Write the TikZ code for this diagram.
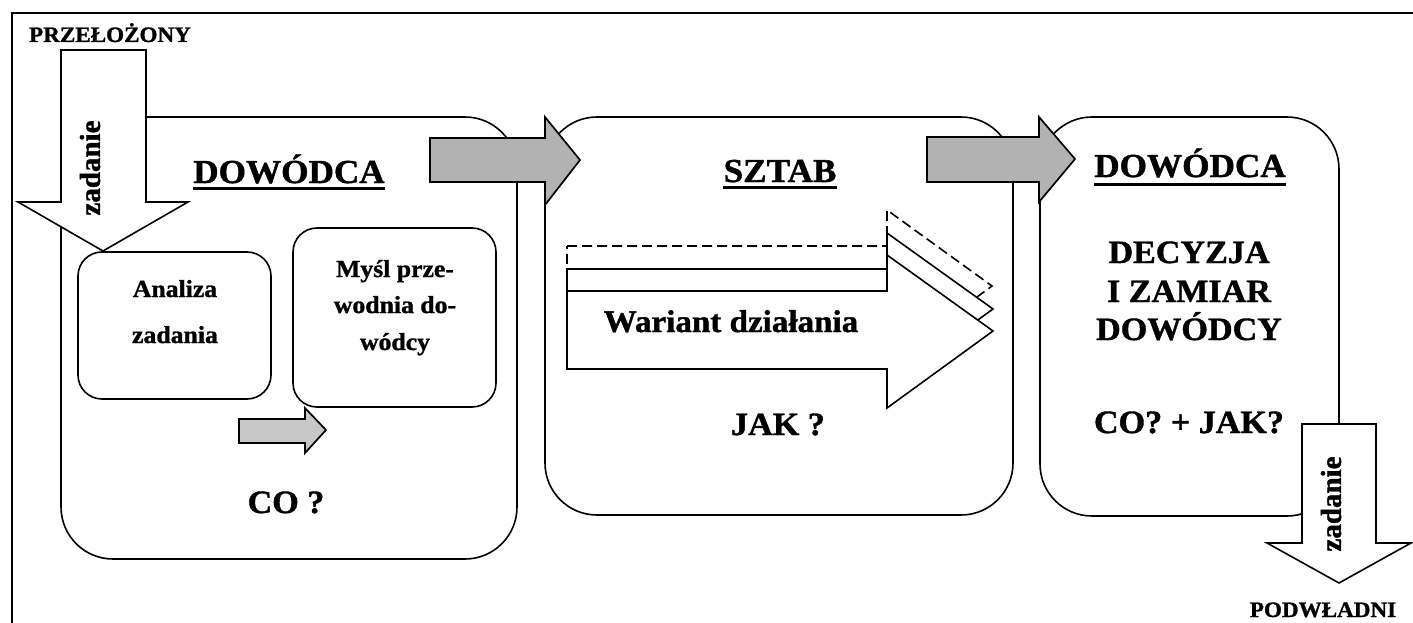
\documentclass[tikz,border=0pt]{standalone}
\usepackage{fontspec}
\setmainfont{Liberation Serif}[FakeStretch=1.05, BoldFeatures={FakeBold=1.2}]
\newfontfamily\uprightserif{Liberation Serif}[BoldFeatures={FakeBold=1.2}]
\usepackage{tikz}
\usetikzlibrary{positioning}

\tikzset{
  panel/.style={draw, line width=1.6pt, rounded corners=52pt},
  card/.style={draw, line width=1.6pt, rounded corners=24pt},
  greyarr/.style={draw, line width=1.7pt, fill=black!30},
  whitearr/.style={draw, line width=1.6pt, fill=white},
  uline/.style={line width=3pt},
  headtxt/.style={font=\bfseries\fontsize{33.5}{40}\selectfont, inner sep=0pt, anchor=base},
  bigtxt/.style={font=\bfseries\fontsize{32.5}{38}\selectfont, inner sep=0pt, anchor=base},
  cardtxt/.style={font=\bfseries\fontsize{24.5}{29}\selectfont, inner sep=0pt, anchor=base},
  edgetxt/.style={font=\bfseries\fontsize{22}{26}\selectfont, inner sep=0pt, anchor=base},
  rottxt/.style={font=\uprightserif\bfseries\fontsize{29}{34}\selectfont, inner sep=0pt, rotate=90}
}

\begin{document}
\begin{tikzpicture}[x=1pt,y=-1pt]
		\useasboundingbox (0,0) rectangle (1413,623);
		\draw[line width=1.4pt] (12,623) -- (12,13) -- (1413,13);

		\draw[panel] (61,117) rectangle (517,559);
		\draw[panel] (545,117) rectangle (1013,515);
		\draw[panel] (1040,117) rectangle (1339,516);
		\draw[card] (78,252) rectangle (271,399);
		\draw[card] (293,228) rectangle (496,407);

		\draw[greyarr] (430,138) -- (545,138) -- (545,117) -- (580,160) -- (545,205) -- (545,182) -- (430,182) -- cycle;
		\draw[greyarr] (927,137) -- (1039,137) -- (1039,117) -- (1075,159) -- (1039,202) -- (1039,182) -- (927,182) -- cycle;
		\draw[greyarr, fill=black!22] (239,419) -- (305,419) -- (305,408) -- (326,430) -- (305,453) -- (305,443) -- (239,443) -- cycle;

		\draw[whitearr] (61,50) -- (146,50) -- (146,202) -- (188,202) -- (103,251) -- (18,202) -- (61,202) -- cycle;
		\draw[whitearr] (1302,424) -- (1376,424) -- (1376,543) -- (1411,543) -- (1339,583) -- (1267,543) -- (1302,543) -- cycle;

		\draw[whitearr, dash pattern=on 10pt off 5pt] (567,246) -- (887,246) -- (887,210) -- (992,286) -- (887,363) -- (887,324) -- (567,324) -- cycle;
		\draw[whitearr] (567,269) -- (887,269) -- (887,233) -- (993,309) -- (887,386) -- (887,347) -- (567,347) -- cycle;
		\draw[whitearr] (567,291) -- (887,291) -- (887,255) -- (993,331) -- (887,408) -- (887,369) -- (567,369) -- cycle;

		\node[edgetxt] (boss) at (110,42) {PRZEŁOŻONY};
		\node[edgetxt] (subord) at (1323,617) {PODWŁADNI};
		\node[rottxt] (taskA) at (90,168) {zadanie};
		\node[rottxt] (taskB) at (1331,504) {zadanie};

		\node[headtxt] (cmdA) at (289,183) {DOWÓDCA};
		\node[headtxt] (hq) at (780,182) {SZTAB};
		\node[headtxt] (cmdB) at (1190,177) {DOWÓDCA};
		\foreach \n/\d in {cmdA/5,hq/5,cmdB/7}
			\draw[uline] ([yshift=-\d pt]\n.base west) -- ([yshift=-\d pt]\n.base east);

		\node[cardtxt] (ana1) at (175,297) {Analiza};
		\node[cardtxt] (ana2) at (175,343) {zadania};
		\node[cardtxt] (idea1) at (395,277) {Myśl prze-};
		\node[cardtxt] (idea2) at (395,313) {wodnia do-};
		\node[cardtxt] (idea3) at (395,350) {wódcy};
		\node[bigtxt] (what) at (286,513) {CO ?};

		\node[bigtxt, font=\bfseries\fontsize{31.5}{37}\selectfont] (variant) at (731,332) {Wariant działania};
		\node[bigtxt] (how) at (778,435) {JAK ?};

		\node[bigtxt] (dec1) at (1189,263) {DECYZJA};
		\node[bigtxt] (dec2) at (1189,302) {I ZAMIAR};
		\node[bigtxt] (dec3) at (1189,340) {DOWÓDCY};
		\node[bigtxt] (both) at (1189,433) {CO? + JAK?};
\end{tikzpicture}
\end{document}
